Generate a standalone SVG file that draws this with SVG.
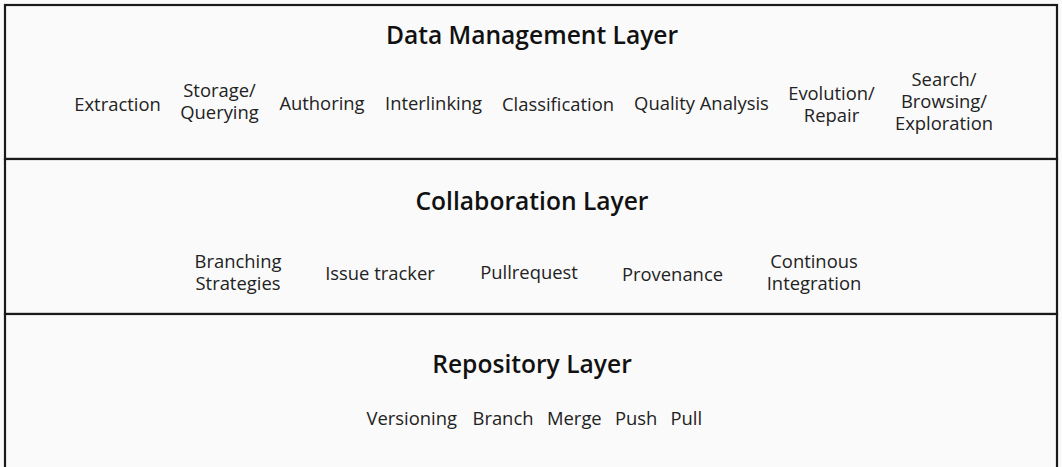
<svg xmlns="http://www.w3.org/2000/svg" width="1062" height="467" viewBox="0 0 1062 467">
<style>
.bg{fill:#fafafa}
.layer{fill:#fafafa;stroke:#1a1a1a;stroke-width:2.2}
.title{font-family:"Open Sans","Liberation Sans",sans-serif;font-size:24.6px;font-weight:600;fill:#111;text-anchor:middle}
.item{font-family:"Open Sans","Liberation Sans",sans-serif;font-size:18.4px;fill:#222;text-anchor:middle}
.word{font-family:"Open Sans","Liberation Sans",sans-serif;font-size:18.4px;fill:#222}
</style>
<rect class="bg" x="0" y="0" width="1062" height="467"/>
<g id="data-management-layer">
<rect class="layer" x="5" y="5" width="1052" height="154"/>
<text class="title" x="532" y="44">Data Management Layer</text>
<text class="item" x="117.5" y="111">Extraction</text>
<text class="item" x="219.5" y="97">Storage/<tspan x="219.5" dy="22">Querying</tspan></text>
<text class="item" x="322" y="109.5">Authoring</text>
<text class="item" x="433.5" y="109.5">Interlinking</text>
<text class="item" x="558" y="111">Classification</text>
<text class="item" x="701.5" y="109.5">Quality Analysis</text>
<text class="item" x="831.5" y="99.5">Evolution/<tspan x="831.5" dy="22">Repair</tspan></text>
<text class="item" x="944" y="86">Search/<tspan x="944" dy="22">Browsing/</tspan><tspan x="944" dy="22">Exploration</tspan></text>
</g>
<g id="collaboration-layer">
<rect class="layer" x="5" y="159" width="1052" height="155"/>
<text class="title" x="532" y="210">Collaboration Layer</text>
<text class="item" x="238" y="268">Branching<tspan x="238" dy="22">Strategies</tspan></text>
<text class="item" x="380" y="280">Issue tracker</text>
<text class="item" x="529" y="278.5">Pullrequest</text>
<text class="item" x="672.5" y="280.5">Provenance</text>
<text class="item" x="814" y="267.5">Continous<tspan x="814" dy="22">Integration</tspan></text>
</g>
<g id="repository-layer">
<rect class="layer" x="5" y="314" width="1052" height="160"/>
<text class="title" x="532" y="373">Repository Layer</text>
<text class="word" x="366.5" y="425">Versioning</text>
<text class="word" x="472.5" y="425">Branch</text>
<text class="word" x="547" y="425">Merge</text>
<text class="word" x="615" y="425">Push</text>
<text class="word" x="670.5" y="425">Pull</text>
</g>
<g id="connectors"/>
</svg>
